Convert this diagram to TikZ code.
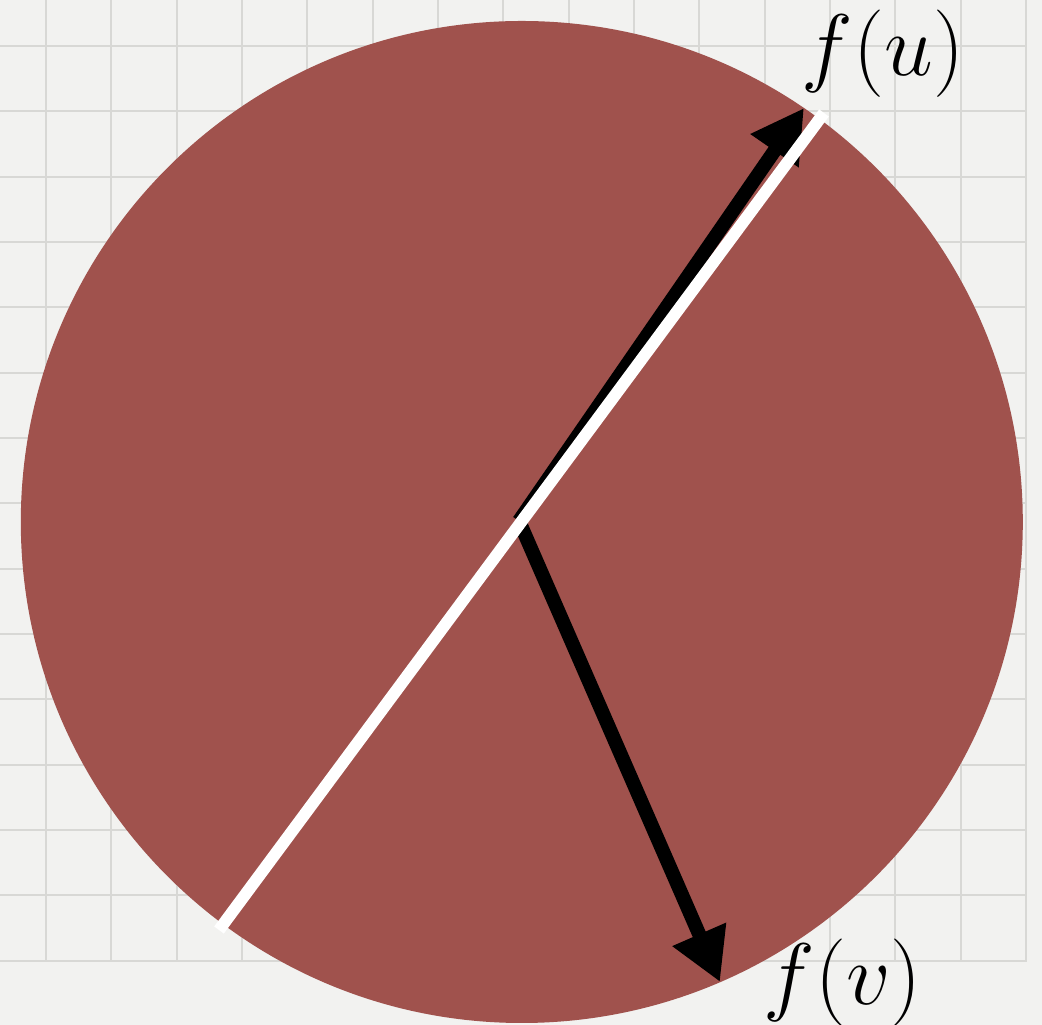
\documentclass[tikz,border=0pt]{standalone}
\usepackage{amsmath,amssymb}
\usepackage{xcolor}
\usepackage{tikz}
\usetikzlibrary{arrows.meta,calc}

\definecolor{paper}{RGB}{242,242,240}
\definecolor{gridgray}{RGB}{216,216,213}
\definecolor{diskred}{RGB}{160,82,77}

\begin{document}
\begin{tikzpicture}[line join=round,
    gridline/.style={draw=gridgray,line width=0.5pt},
    vec/.style={line width=4pt,-{Triangle[length=5.2mm,width=5.5mm]}},
    cut/.style={white,line width=3.4pt},
    lbl/.style={inner sep=0pt,font=\fontsize{24}{28}\selectfont}]
  \useasboundingbox (0,0) rectangle (10.42,10.25);
  \fill[paper] (0,0) rectangle (10.42,10.25);
  % graph paper
  \foreach \i in {0,...,15}
    \draw[gridline] ({0.46+0.6533*\i},0.644) -- ({0.46+0.6533*\i},10.25);
  \foreach \j in {0,...,14}
    \draw[gridline] (0,{9.79-0.6533*\j}) -- (10.267,{9.79-0.6533*\j});
  \coordinate (C) at (5.218,5.030);
  \coordinate (O) at (5.190,5.040);
  \coordinate (U) at (8.040,9.170);
  \coordinate (V) at (7.200,0.430);
  \coordinate (W0) at (2.190,0.950);
  \coordinate (W1) at (8.240,9.120);
  \fill[diskred] (C) circle (5.01);
  \draw[vec] (O) -- (U);
  \draw[vec] (O) -- (V);
  \draw[cut] (W0) -- (W1);
  \node[lbl] (FU) at (8.830,9.715) {$f(u)$};
  \node[lbl] (FV) at (8.425,0.420) {$f(v)$};
\end{tikzpicture}
\end{document}
